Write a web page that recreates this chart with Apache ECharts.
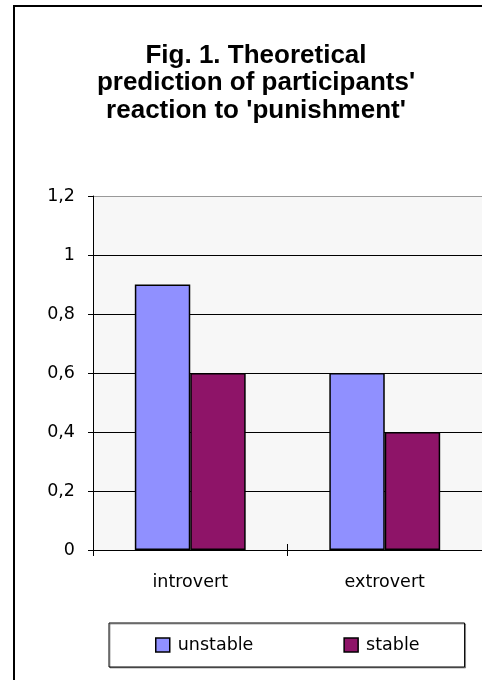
<!DOCTYPE html>
<html>
<head>
<meta charset="utf-8">
<script src="https://cdn.jsdelivr.net/npm/echarts@6/dist/echarts.min.js"></script>
<style>
html,body{margin:0;padding:0;background:#fff;}
#c{width:482px;height:680px;}
</style>
</head>
<body>
<div id="c"></div>
<script>
const categories = ['introvert', 'extrovert'];
const unstable = [0.9, 0.6];
const stable = [0.6, 0.4];
const yTicks = { min: 0, max: 1.2, interval: 0.2 };
const titleText = "Fig. 1. Theoretical\nprediction of participants'\nreaction to 'punishment'";

const TFONT = "'Liberation Sans', Arial, sans-serif";
const FONT = "'DejaVu Sans', sans-serif";
const chart = echarts.init(document.getElementById('c'), null, { renderer: 'canvas' });
chart.setOption({
  animation: false,
  backgroundColor: '#fff',
  textStyle: { fontFamily: FONT },
  graphic: [{
    type: 'rect', left: 13, top: 5, z: -10,
    shape: { width: 520, height: 720 },
    style: { fill: '#fff', stroke: '#000', lineWidth: 2 }
  }],
  title: {
    text: titleText,
    left: 251, textAlign: 'center', top: 37,
    textStyle: { fontFamily: TFONT, fontSize: 26, fontWeight: 'bold', color: '#000', lineHeight: 27.5 }
  },
  legend: {
    left: 109, top: 623,
    padding: [13, 45, 13, 46],
    itemGap: 90,
    itemWidth: 14, itemHeight: 14,
    icon: 'rect',
    borderColor: '#000', borderWidth: 1,
    shadowColor: 'rgba(0,0,0,0.35)', shadowOffsetX: 1, shadowOffsetY: 1,
    backgroundColor: '#fff',
    textStyle: { fontFamily: FONT, fontSize: 17.5, lineHeight: 18, color: '#000', padding: [0, 0, 0, 3] },
    itemStyle: { borderColor: '#000', borderWidth: 1.5 },
    data: ['unstable', 'stable']
  },
  grid: {
    left: 93, top: 196, width: 398, height: 354,
    show: true, backgroundColor: '#F7F7F7', borderWidth: 0
  },
  xAxis: [{
    type: 'category', data: categories,
    axisLine: { lineStyle: { color: '#000', width: 1 } },
    axisTick: { show: true, length: 6, lineStyle: { color: '#000' } },
    axisLabel: { fontFamily: FONT, fontSize: 17.5, color: '#000', margin: 23 }
  }, {
    type: 'category', data: categories, position: 'bottom',
    axisLine: { show: false },
    axisTick: { show: true, inside: true, length: 6, lineStyle: { color: '#000' } },
    axisLabel: { show: false }
  }],
  yAxis: {
    type: 'value', min: yTicks.min, max: yTicks.max, interval: yTicks.interval,
    axisLine: { show: true, lineStyle: { color: '#000' } },
    axisTick: { show: true, length: 5, lineStyle: { color: '#000' } },
    axisLabel: {
      fontFamily: FONT, fontSize: 17.5, color: '#000', margin: 18,
      formatter: v => String(Math.round(v * 10) / 10).replace('.', ',')
    },
    splitLine: { show: true, lineStyle: { color: ['#000', '#000', '#000', '#000', '#000', '#000', '#999'], width: 1 } }
  },
  series: [{
    name: 'unstable', type: 'bar', data: unstable,
    barGap: '0%', barCategoryGap: '43%',
    itemStyle: { color: '#9090FF', borderColor: '#000', borderWidth: 1.5 }
  }, {
    name: 'stable', type: 'bar', data: stable,
    barGap: '0%', barCategoryGap: '43%',
    itemStyle: { color: '#8E1468', borderColor: '#000', borderWidth: 1.5 }
  }]
});
</script>
</body>
</html>
